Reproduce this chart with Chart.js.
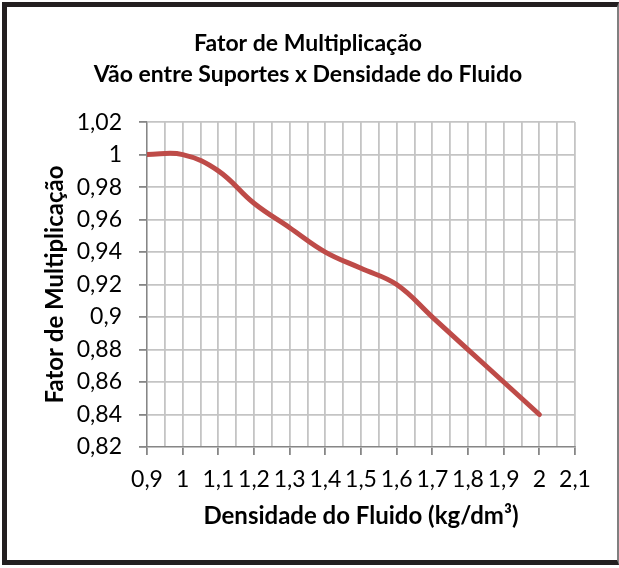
<!DOCTYPE html>
<html>
<head>
<meta charset="utf-8">
<script src="https://cdn.jsdelivr.net/npm/chart.js@4/dist/chart.umd.min.js"></script>
<style>
  html, body { margin: 0; padding: 0; background: #fff; }
  #frame {
    position: absolute; left: 2px; top: 2px;
    width: 610px; height: 553px;
    border-top: 5px solid #231f20; border-left: 5px solid #231f20;
    border-bottom: 5px solid #231f20; border-right: 2px solid #808080;
  }
  canvas { display: block; }
</style>
</head>
<body>
<div id="frame"><canvas id="chart" width="610" height="553"></canvas></div>
<script>
// densidade (kg/dm3) x fator de multiplicacao
const densidade = [0.9, 1.0, 1.1, 1.2, 1.3, 1.4, 1.5, 1.6, 1.7, 1.8, 1.9, 2.0];
const fator = [1, 1, 0.99, 0.97, 0.955, 0.94, 0.93, 0.92, 0.9, 0.88, 0.86, 0.84];

const xTickLabels = ['0,9', '1', '1,1', '1,2', '1,3', '1,4', '1,5', '1,6', '1,7', '1,8', '1,9', '2', '2,1'];
const yTickLabels = ['0,82', '0,84', '0,86', '0,88', '0,9', '0,92', '0,94', '0,96', '0,98', '1', '1,02'];

const FONT = 'Lato, "Open Sans", sans-serif';
const gridCol = '#c4c4c4';
const axisCol = '#868686';

new Chart(document.getElementById('chart'), {
  type: 'line',
  data: {
    datasets: [{
      data: densidade.map((d, i) => ({ x: d, y: fator[i] })),
      borderColor: '#BE4B48',
      borderWidth: 5,
      pointRadius: 0,
      tension: 0.4,
      borderCapStyle: 'round',
      fill: false
    }]
  },
  options: {
    responsive: false,
    animation: false,
    devicePixelRatio: 1,
    layout: { padding: { left: 34, right: 42, top: 0, bottom: 0 } },
    plugins: {
      legend: { display: false },
      tooltip: { enabled: false },
      title: {
        display: true,
        text: ['Fator de Multiplicação', 'Vão entre Suportes x Densidade do Fluido'],
        color: '#000',
        font: { family: FONT, size: 23, weight: 'bold', lineHeight: 1.35 },
        padding: { top: 21, bottom: 32 }
      }
    },
    scales: {
      x: {
        type: 'linear',
        min: 0.9, max: 2.1,
        afterFit: s => { s.height = 113; },
        border: { color: axisCol, width: 1.3 },
        grid: {
          color: gridCol, lineWidth: 1.8, tickLength: 8,
          tickColor: c => (c.index % 2 ? 'rgba(0,0,0,0)' : axisCol)
        },
        ticks: {
          stepSize: 0.05, autoSkip: false, maxRotation: 0, minRotation: 0,
          padding: 11, color: '#000',
          font: { family: FONT, size: 23 },
          callback: (v, i) => (i % 2 ? '' : xTickLabels[i / 2])
        },
        title: {
          display: true,
          text: 'Densidade do Fluido (kg/dm³)',
          color: '#000',
          font: { family: FONT, size: 24, weight: 'bold' },
          padding: { top: 0, bottom: 29 }
        }
      },
      y: {
        min: 0.82, max: 1.02,
        afterFit: s => { s.width = 106; },
        border: { color: axisCol, width: 1.3 },
        grid: { color: gridCol, lineWidth: 1.8, tickLength: 8, tickColor: axisCol },
        ticks: {
          stepSize: 0.02, padding: 17, color: '#000',
          font: { family: FONT, size: 23 },
          callback: (v, i) => yTickLabels[i]
        },
        title: {
          display: true,
          text: 'Fator de Multiplicação',
          color: '#000',
          font: { family: FONT, size: 24, weight: 'bold' },
          padding: { top: 0, bottom: 0 }
        }
      }
    }
  }
});
</script>
</body>
</html>
